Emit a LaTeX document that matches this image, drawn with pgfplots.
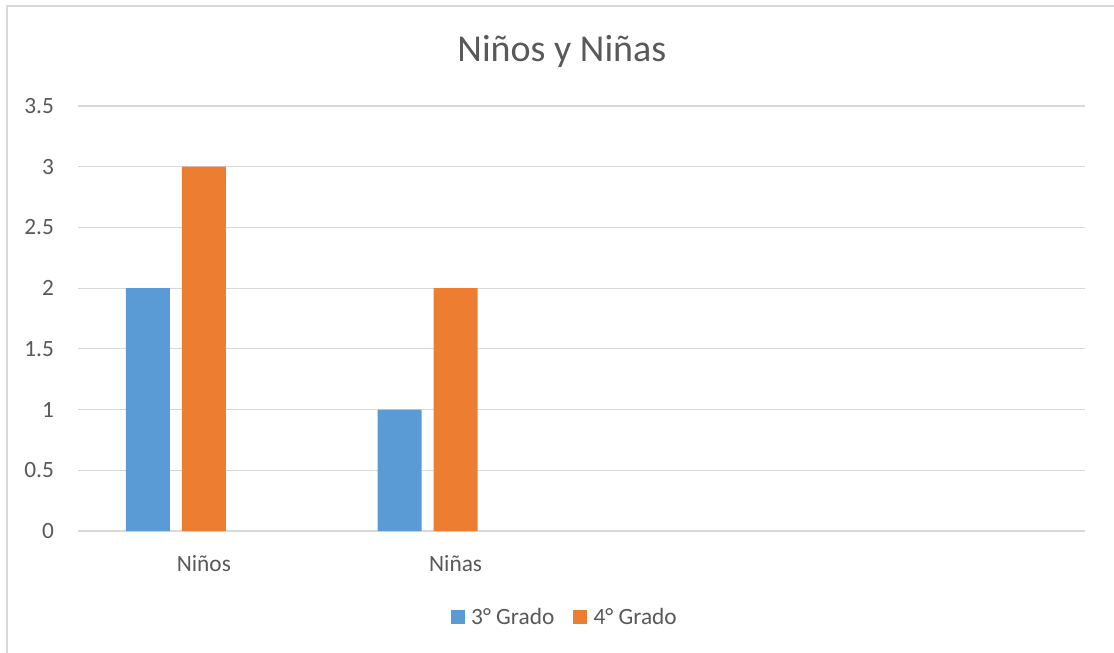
\documentclass[border=0pt]{standalone}
\usepackage{pgfplots}
\pgfplotsset{compat=1.18}
\usepackage{fontspec}
\setmainfont{Carlito}
\definecolor{cblue}{HTML}{5B9BD5}
\definecolor{corange}{HTML}{ED7D31}
\definecolor{cgrid}{HTML}{D9D9D9}
\definecolor{ctext}{HTML}{595959}
\begin{document}
\begin{tikzpicture}
\path[use as bounding box] (-58.5pt,-91.5pt) rectangle (777pt,398.25pt);
\draw[cgrid, line width=1.2pt] (-53.25pt,-91.5pt) -- (-53.25pt,393.75pt) -- (777pt,393.75pt);
\begin{axis}[
  at={(94.41pt,0pt)}, anchor=origin,
  scale only axis, width=755.25pt, height=318.75pt,
  xmin=-0.5, xmax=3.5, ymin=0, ymax=3.5,
  xtick={0,1}, xticklabels={Niños, Niñas},
  ytick={0,0.5,1,1.5,2,2.5,3,3.5},
  yticklabels={0,0.5,1,1.5,2,2.5,3,3.5},
  major tick length=0pt,
  axis line style={draw=none},
  ymajorgrids, grid style={cgrid, line width=0.9pt},
  tick label style={font=\fontsize{17.5}{21}\selectfont, text=ctext},
  yticklabel style={xshift=-14.5pt},
  xticklabel style={yshift=-14.5pt},
  /pgf/number format/assume math mode=true,
  title={Niños y Niñas},
  title style={font=\fontsize{28.5}{33}\selectfont, text=ctext, at={(0.4805,1.0)}, anchor=center, yshift=35pt},
  ybar, bar width=33pt,
  legend columns=2,
  legend style={draw=none, at={(0.4836,-0.2024)}, anchor=center, font=\fontsize{17.5}{21}\selectfont, text=ctext,
    /tikz/every even column/.append style={column sep=12pt}},
  legend image code/.code={\fill[#1] (0pt,-5pt) rectangle (10.5pt,5.5pt); \path (0pt,0pt) -- (13.5pt,0pt);},
]
\addplot[fill=cblue, draw=none, bar shift=-42pt] coordinates {(0,2) (1,1)};
\addplot[fill=corange, draw=none, bar shift=0pt] coordinates {(0,3) (1,2)};
\legend{3° Grado, 4° Grado}
\end{axis}
\end{tikzpicture}
\end{document}
